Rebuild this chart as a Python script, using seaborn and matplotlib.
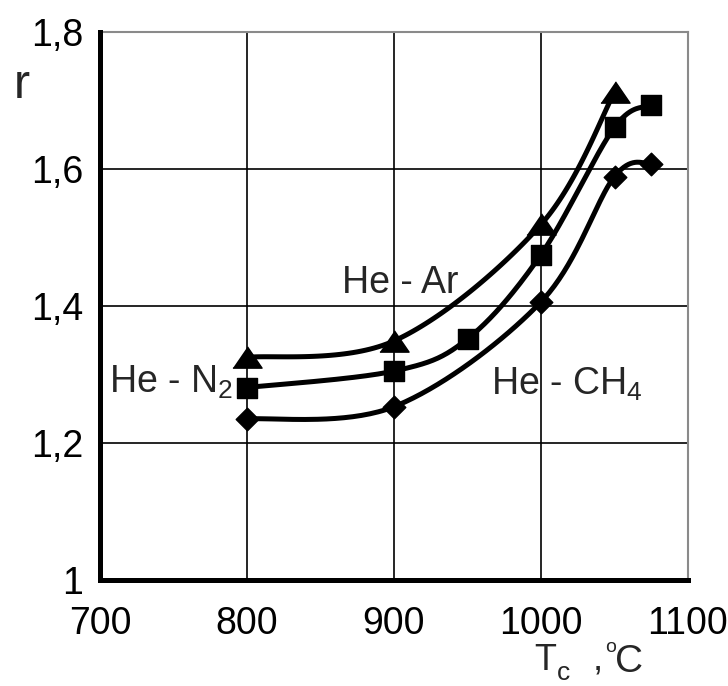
import numpy as np
import pandas as pd
import matplotlib
matplotlib.use("Agg")
import matplotlib.pyplot as plt
import seaborn as sns

# ---- data ----
x_ar = [800, 900, 1000, 1050]
r_ar = [1.325, 1.349, 1.519, 1.712]

x_n2 = [800, 900, 950, 1000, 1050, 1075]
r_n2 = [1.281, 1.305, 1.352, 1.475, 1.661, 1.693]

x_ch4 = [800, 900, 1000, 1050, 1075]
r_ch4 = [1.235, 1.253, 1.406, 1.589, 1.608]

x_ticks = [700, 800, 900, 1000, 1100]
y_ticks = [1.0, 1.2, 1.4, 1.6, 1.8]
y_tick_labels = ["1", "1,2", "1,4", "1,6", "1,8"]

labels = {"ar": "He - Ar", "n2": "He - N$_\\mathregular{2}$", "ch4": "He - CH$_\\mathregular{4}$"}


def smooth(xs, ys, n=40):
    """Excel-like smoothed line (Catmull-Rom Bezier) through the points."""
    P = np.column_stack([xs, ys]).astype(float)
    m = len(P)
    out = []
    for i in range(m - 1):
        p0 = P[max(i - 1, 0)]
        p1 = P[i]
        p2 = P[i + 1]
        p3 = P[min(i + 2, m - 1)]
        c1 = p1 + (p2 - p0) / 6.0
        c2 = p2 - (p3 - p1) / 6.0
        t = np.linspace(0, 1, n)[:, None]
        seg = ((1 - t) ** 3) * p1 + 3 * ((1 - t) ** 2) * t * c1 + 3 * (1 - t) * t ** 2 * c2 + t ** 3 * p2
        out.append(seg if i == 0 else seg[1:])
    S = np.vstack(out)
    return pd.DataFrame({"x": S[:, 0], "y": S[:, 1]})


sns.set_style("white")
plt.rcParams["font.family"] = ["Liberation Sans", "DejaVu Sans"]
plt.rcParams["mathtext.fontset"] = "custom"
plt.rcParams["mathtext.rm"] = "Liberation Sans"
plt.rcParams["mathtext.it"] = "Liberation Sans"

W, H = 728, 686
fig = plt.figure(figsize=(W / 100, H / 100), dpi=100)
ax = fig.add_axes([100 / W, 1 - 580 / H, 588 / W, 548 / H])

tri = [(-1, -0.73), (1, -0.73), (0, 0.73)]
series = [
    (x_ar, r_ar, tri, 21),
    (x_n2, r_n2, "s", 15),
    (x_ch4, r_ch4, "D", 11.5),
]
for xs, ys, mk, ms in series:
    sm = smooth(xs, ys)
    sns.lineplot(data=sm, x="x", y="y", sort=False, color="black", lw=3.6,
                 ax=ax, zorder=3, estimator=None)
    sns.scatterplot(x=xs, y=ys, marker=mk, s=ms ** 2, color="black",
                    edgecolor="black", linewidth=1, ax=ax, zorder=4)

ax.set_xlim(700, 1100)
ax.set_ylim(1.0, 1.8)
ax.set_xticks(x_ticks)
ax.set_xticklabels([str(v) for v in x_ticks])
ax.set_yticks(y_ticks)
ax.set_yticklabels(y_tick_labels)

ax.grid(True, color="black", lw=1.2)
ax.set_axisbelow(True)
for s in ["left", "bottom"]:
    ax.spines[s].set_color("black")
    ax.spines[s].set_linewidth(3.6)
    ax.spines[s].set_zorder(5)
for s in ["top", "right"]:
    ax.spines[s].set_color("#8a8a8a")
    ax.spines[s].set_linewidth(1.5)

ax.tick_params(axis="both", direction="out", length=5, width=1.5, color="black",
               labelsize=27, labelcolor="black")
ax.tick_params(axis="y", pad=7)
ax.tick_params(axis="x", pad=14)

ax.set_xlabel("")
ax.set_ylabel("")


def ftext(px, py, s, size):
    fig.text(px / W, 1 - py / H, s, fontsize=size, ha="left", va="baseline")


# x-axis title "T_c , °C" built from pieces to match the reference spacing
ftext(534, 670, "T", 26)
ftext(557, 680, "c", 19)
ftext(593, 670, ",", 26)
ftext(605, 652, "o", 14)
ftext(615, 672, "C", 28)

# y-axis title "r"
ftext(14, 98, "r", 35)

ax.text(904, 1.434, labels["ar"], fontsize=27, ha="center", va="center", zorder=6)
ax.text(706, 1.288, labels["n2"], fontsize=27, ha="left", va="center", zorder=6)
ax.text(966, 1.285, labels["ch4"], fontsize=27, ha="left", va="center", zorder=6)

fig.savefig("out.png", dpi=100)
